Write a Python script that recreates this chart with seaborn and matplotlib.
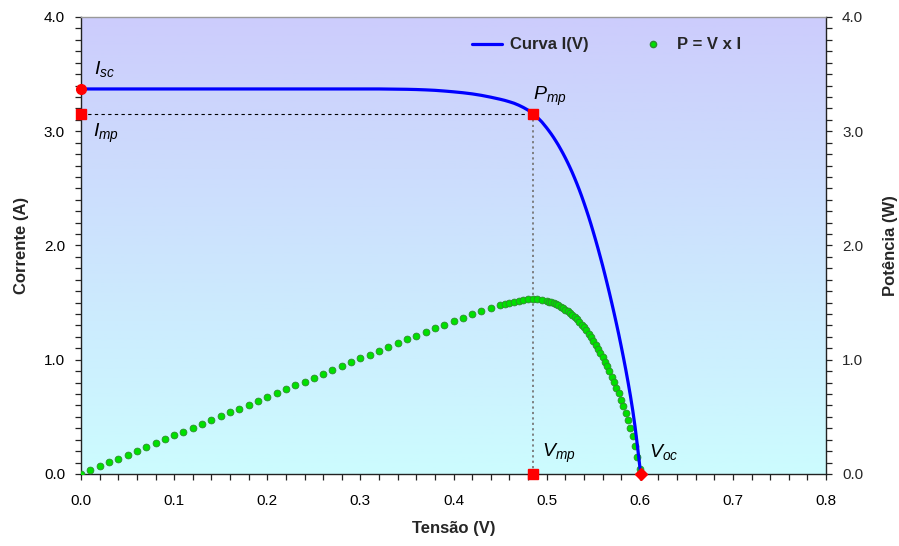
import numpy as np
import pandas as pd
import matplotlib
matplotlib.use("Agg")
import matplotlib.pyplot as plt
import seaborn as sns
from matplotlib.lines import Line2D
from matplotlib.ticker import MultipleLocator
from matplotlib.colors import LinearSegmentedColormap

# ---------------- data ----------------
volts = [0.00, 0.01, 0.02, 0.03, 0.04, 0.05, 0.06, 0.07, 0.08, 0.09,
         0.10, 0.11, 0.12, 0.13, 0.14, 0.15, 0.16, 0.17, 0.18, 0.19,
         0.20, 0.21, 0.22, 0.23, 0.24, 0.25, 0.26, 0.27, 0.28, 0.29,
         0.30, 0.31, 0.32, 0.33, 0.34, 0.35, 0.36, 0.37, 0.38, 0.39,
         0.40, 0.41, 0.42, 0.43, 0.44, 0.45, 0.455, 0.46, 0.465, 0.47,
         0.475, 0.48, 0.485, 0.49, 0.495, 0.500, 0.5025, 0.505, 0.5075, 0.510,
         0.5125, 0.515, 0.5175, 0.520, 0.5225, 0.525, 0.5275, 0.530, 0.5325, 0.535,
         0.5375, 0.540, 0.5425, 0.545, 0.5475, 0.550, 0.5525, 0.555, 0.5575, 0.560,
         0.5625, 0.565, 0.5675, 0.570, 0.5725, 0.575, 0.5775, 0.580, 0.5825, 0.585,
         0.5875, 0.590, 0.5925, 0.595, 0.5975, 0.600, 0.601]
amps = [3.37, 3.37, 3.37, 3.37, 3.37, 3.37, 3.37, 3.37, 3.37, 3.37,
        3.37, 3.37, 3.37, 3.37, 3.37, 3.37, 3.37, 3.37, 3.37, 3.37,
        3.37, 3.37, 3.37, 3.37, 3.37, 3.37, 3.37, 3.37, 3.37, 3.37,
        3.37, 3.37, 3.37, 3.369, 3.368, 3.367, 3.365, 3.362, 3.358, 3.352,
        3.345, 3.337, 3.327, 3.314, 3.298, 3.280, 3.270, 3.258, 3.245, 3.228,
        3.208, 3.185, 3.157, 3.122, 3.080, 3.030, 3.003, 2.975, 2.945, 2.913,
        2.880, 2.844, 2.807, 2.768, 2.727, 2.684, 2.639, 2.591, 2.541, 2.489,
        2.434, 2.376, 2.316, 2.254, 2.189, 2.121, 2.051, 1.979, 1.904, 1.828,
        1.748, 1.666, 1.582, 1.495, 1.406, 1.314, 1.220, 1.121, 1.019, 0.913,
        0.801, 0.683, 0.555, 0.411, 0.246, 0.070, 0.000]
power = [0.000, 0.034, 0.067, 0.101, 0.135, 0.169, 0.202, 0.236, 0.270, 0.303,
         0.337, 0.371, 0.404, 0.438, 0.472, 0.506, 0.539, 0.573, 0.607, 0.640,
         0.674, 0.708, 0.741, 0.775, 0.809, 0.843, 0.876, 0.910, 0.944, 0.977,
         1.011, 1.045, 1.078, 1.112, 1.145, 1.178, 1.211, 1.244, 1.276, 1.307,
         1.338, 1.368, 1.397, 1.425, 1.451, 1.476, 1.488, 1.499, 1.509, 1.517,
         1.524, 1.529, 1.531, 1.530, 1.525, 1.515, 1.509, 1.502, 1.494, 1.486,
         1.476, 1.465, 1.453, 1.439, 1.425, 1.409, 1.392, 1.373, 1.353, 1.331,
         1.308, 1.283, 1.256, 1.228, 1.198, 1.167, 1.133, 1.098, 1.061, 1.024,
         0.983, 0.941, 0.898, 0.852, 0.805, 0.756, 0.705, 0.650, 0.594, 0.534,
         0.471, 0.403, 0.329, 0.245, 0.147, 0.042, 0.000]

isc = 3.37
imp = 3.155
vmp = 0.485
voc = 0.601

x_ticks = [0.0, 0.1, 0.2, 0.3, 0.4, 0.5, 0.6, 0.7, 0.8]
y_ticks = [0.0, 1.0, 2.0, 3.0, 4.0]

df = pd.DataFrame({"Tensão": volts, "Corrente": amps, "Potência": power})

# ---------------- style ----------------
sns.set_theme(style="white")
plt.rcParams["font.family"] = ["Liberation Sans", "DejaVu Sans"]
plt.rcParams["mathtext.fontset"] = "custom"
plt.rcParams["mathtext.it"] = "Liberation Sans:italic"
plt.rcParams["mathtext.rm"] = "Liberation Sans"

fig = plt.figure(figsize=(8.99, 5.46), dpi=100)
ax = fig.add_axes([0.0901, 0.1319, 0.8287, 0.8370])

# gradient background
cmap = LinearSegmentedColormap.from_list("bg", [(204/255, 252/255, 255/255),
                                                (204/255, 204/255, 252/255)])
grad = np.linspace(0, 1, 256).reshape(-1, 1)
ax.imshow(grad, extent=[0, 0.8, 0, 4], origin="lower", aspect="auto",
          cmap=cmap, zorder=0)

# guide lines
ax.plot([0, vmp], [imp, imp], color="black", lw=0.8, ls=(0, (3, 3)), zorder=2)
ax.plot([vmp, vmp], [imp, 0], color="#777777", lw=1.3, ls=(0, (1.2, 1.8)), zorder=2)

# power points
sns.scatterplot(data=df, x="Tensão", y="Potência", ax=ax, marker="o", s=24,
                color="#00E000", edgecolor="#2E8B2E", linewidth=0.6, zorder=3,
                legend=False)
# I-V curve
sns.lineplot(data=df, x="Tensão", y="Corrente", ax=ax, color="#0000FF", lw=2.3,
             sort=False, zorder=4, legend=False)

# key points
ax.plot([0], [isc], marker="o", ms=7, color="#FF0000", mec="#FF0000", zorder=6,
        ls="none", clip_on=False)
ax.plot([0, vmp, vmp], [imp, imp, 0], marker="s", ms=6.5, color="#FF0000",
        zorder=6, ls="none", clip_on=False)
ax.plot([voc], [0], marker="D", ms=6, color="#FF0000", zorder=6, ls="none", clip_on=False)

# labels of key points
fs = 14
ax.text(0.0137, 3.50, r"$I_{sc}$", fontsize=fs, ha="left", va="baseline", color="black")
ax.text(0.0132, 2.952, r"$I_{mp}$", fontsize=fs, ha="left", va="baseline", color="black")
ax.text(0.4855, 3.274, r"$P_{mp}$", fontsize=fs, ha="left", va="baseline", color="black")
ax.text(0.4945, 0.152, r"$V_{mp}$", fontsize=fs, ha="left", va="baseline", color="black")
ax.text(0.610, 0.152, r"$V_{oc}$", fontsize=fs, ha="left", va="baseline", color="black")

# axes
ax.set_xlim(0, 0.8)
ax.set_ylim(0, 4)
ax.set_xticks(x_ticks)
ax.set_yticks(y_ticks)
ax.set_xticklabels([f"{v:.1f}" for v in x_ticks])
ax.set_yticklabels([f"{v:.1f}" for v in y_ticks])
ax.xaxis.set_minor_locator(MultipleLocator(0.02))
ax.yaxis.set_minor_locator(MultipleLocator(0.1))
ax.tick_params(which="both", direction="out", length=4.5, width=0.9, color="#222222",
               labelsize=11, labelcolor="black")
ax.tick_params(axis="x", which="both", bottom=True, pad=10)
ax.tick_params(axis="y", which="both", left=True, pad=7)
ax.set_xlabel("Tensão (V)", fontsize=12, fontweight="bold", labelpad=9)
ax.set_ylabel("Corrente (A)", fontsize=12, fontweight="bold", labelpad=11)
for s in ["left", "bottom", "right"]:
    ax.spines[s].set_color("#222222")
    ax.spines[s].set_linewidth(1.0)
ax.spines["top"].set_color("#999999")
ax.spines["top"].set_linewidth(1.0)

ax2 = ax.twinx()
ax2.set_ylim(0, 4)
ax2.set_yticks(y_ticks)
ax2.set_yticklabels([f"{v:.1f}" for v in y_ticks])
ax2.yaxis.set_minor_locator(MultipleLocator(0.1))
ax2.tick_params(which="both", direction="out", length=4.5, width=0.9, color="#222222",
                labelsize=11, pad=7, right=True)
ax2.set_ylabel("Potência (W)", fontsize=12, fontweight="bold", labelpad=14)
for s in ax2.spines.values():
    s.set_visible(False)
ax2.grid(False)
ax.grid(False)

handles = [Line2D([0], [0], color="#0000FF", lw=2.3),
           Line2D([0], [0], marker="o", color="none", markerfacecolor="#00E000",
                  markeredgecolor="#2E8B2E", ms=4.5, ls="none")]
ax2.legend(handles, ["Curva I(V)", "P = V x I"], loc="center",
           bbox_to_anchor=(0.705, 0.939), ncol=2, frameon=False,
           prop={"weight": "bold", "size": 12}, handlelength=1.8,
           columnspacing=3.0, handletextpad=0.5)

fig.savefig("out.png", dpi=100)
